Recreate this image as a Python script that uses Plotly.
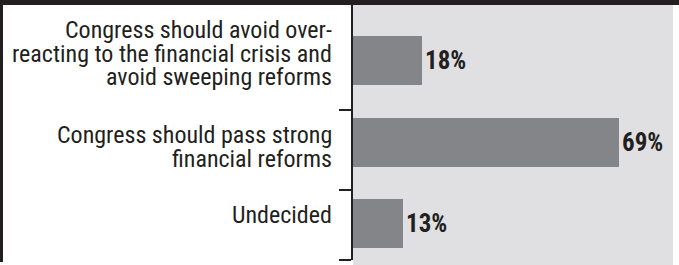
import plotly.graph_objects as go

categories = [
    "Congress should avoid over-<br>reacting to the financial crisis and<br>avoid sweeping reforms",
    "Congress should pass strong<br>financial reforms",
    "Undecided",
]
values = [18, 69, 13]
value_labels = ["18%", "69%", "13%"]

W, H = 679, 265
ML, MR, MT, MB = 353, 6, 5, 0
PW, PH = W - ML - MR, H - MT - MB

BAR = "#848589"
BG = "#e0e0e2"
INK = "#231f20"
FONT = "Roboto Condensed, Roboto, Arial, sans-serif"
LABEL_NUDGE_PX = [7, -5, 9]   # style: small vertical nudges of the category labels
LH = 23.5                     # style: line spacing of the category labels

fig = go.Figure()
fig.add_trace(go.Bar(
    y=categories, x=values, orientation="h", width=0.6,
    marker=dict(color=BAR, line=dict(width=0)),
    text=value_labels, textposition="outside", cliponaxis=False,
    textfont=dict(family=FONT, size=25, color=INK, weight="bold"),
    hoverinfo="skip",
))
# invisible helper trace so the tick axis is drawn
fig.add_trace(go.Scatter(x=[0], y=[1], yaxis="y2", mode="markers",
                         marker=dict(opacity=0), hoverinfo="skip", showlegend=False))

# category labels, one annotation per line for tight line spacing
for cat, nudge in zip(categories, LABEL_NUDGE_PX):
    lines = cat.split("<br>")
    n = len(lines)
    for i, ln in enumerate(lines):
        fig.add_annotation(
            x=0, xref="paper", xanchor="right", xshift=-19,
            y=cat, yref="y", yanchor="middle",
            yshift=((n - 1) / 2 - i) * LH + nudge,
            text=ln, showarrow=False,
            font=dict(family=FONT, size=24, color=INK),
        )

# plot background, top black band and left rule
fig.add_shape(type="rect", xref="paper", yref="paper",
              x0=0, x1=1, y0=0, y1=1,
              fillcolor=BG, line=dict(width=0), layer="below")
fig.add_shape(type="rect", xref="paper", yref="paper",
              x0=-ML / PW, x1=1 + MR / PW, y0=1, y1=1 + MT / PH,
              fillcolor=INK, line=dict(width=0), layer="above")
fig.add_shape(type="rect", xref="paper", yref="paper",
              x0=-ML / PW, x1=-(ML - 3) / PW, y0=3 / PH, y1=1,
              fillcolor=INK, line=dict(width=0), layer="above")

fig.update_layout(
    width=W, height=H,
    margin=dict(l=ML, r=MR, t=MT, b=MB, pad=0),
    paper_bgcolor="white", plot_bgcolor="rgba(0,0,0,0)",
    showlegend=False, bargap=0,
    xaxis=dict(range=[0, 83.1], visible=False, fixedrange=True),
    yaxis=dict(type="category", categoryorder="array", categoryarray=categories,
               range=[2.507, -0.683], showticklabels=False, ticks="",
               showline=False, showgrid=False, zeroline=False, fixedrange=True),
    yaxis2=dict(domain=[5 / PH, 1], anchor="x", range=[2.446, -0.683],
                tickmode="array", tickvals=[0.605, 1.587, 2.4455], showticklabels=False,
                ticks="outside", ticklen=12, tickwidth=2, tickcolor=INK,
                showline=True, linecolor=INK, linewidth=2,
                showgrid=False, zeroline=False, fixedrange=True),
)
fig.write_html("out.html", config={"displayModeBar": False},
               post_script="document.body.style.margin='0';")
